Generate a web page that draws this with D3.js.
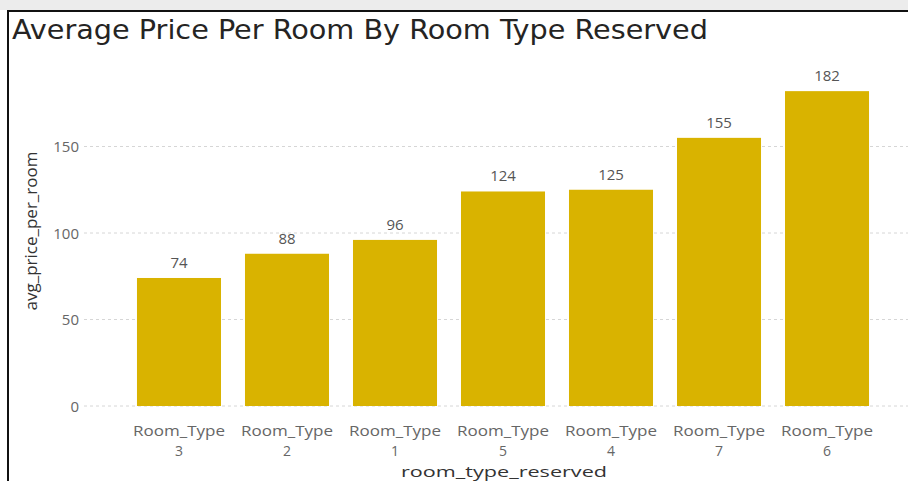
<!DOCTYPE html>
<meta charset="utf-8">
<style>
    body { margin: 0; background: #fff; }
    .grid line { stroke: #d6d6d6; stroke-dasharray: 3,3; }
    .tick text { fill: #666; font-family: "Open Sans", sans-serif; }
</style>
<svg width="908" height="481"></svg>
<script src="https://d3js.org/d3.v7.min.js"></script>
<script>

    var categories = ["Room_Type 3", "Room_Type 2", "Room_Type 1", "Room_Type 5", "Room_Type 4", "Room_Type 7", "Room_Type 6"];
    var values = [74, 88, 96, 124, 125, 155, 182];
    var yTicks = [0, 50, 100, 150];

    var svg = d3.select("svg");

    // frame
    svg.append("rect").attr("x", 0).attr("y", 0).attr("width", 908).attr("height", 10).attr("fill", "#ececec");
    svg.append("line").attr("x1", 7).attr("x2", 908).attr("y1", 11).attr("y2", 11)
        .attr("stroke", "#111").attr("stroke-width", 2);
    svg.append("line").attr("x1", 8).attr("x2", 8).attr("y1", 10).attr("y2", 481)
        .attr("stroke", "#111").attr("stroke-width", 2);

    svg.append("text")
        .attr("x", 12).attr("y", 39)
        .attr("font-family", "'DejaVu Sans Condensed', 'DejaVu Sans', sans-serif")
        .attr("font-size", 27)
        .attr("textLength", 696)
        .attr("lengthAdjust", "spacingAndGlyphs")
        .attr("fill", "#252423")
        .text("Average Price Per Room By Room Type Reserved");

    var x = d3.scaleBand()
        .domain(categories)
        .range([113, 893])
        .padding(0.222);

    var y = d3.scaleLinear()
        .domain([0, 50])
        .range([406, 319.5]);

    // gridlines
    svg.append("g")
        .attr("class", "grid")
        .selectAll("line")
        .data(yTicks)
        .enter().append("line")
        .attr("x1", 84).attr("x2", 908)
        .attr("y1", function(d) { return y(d); })
        .attr("y2", function(d) { return y(d); });

    var yAxis = svg.append("g")
        .attr("transform", "translate(79,0)")
        .call(d3.axisLeft(y).tickValues(yTicks).tickSize(0).tickPadding(0));
    yAxis.select(".domain").remove();
    yAxis.selectAll("text").attr("font-size", 15).attr("fill", "#888").attr("dy", "0.35em");

    svg.selectAll(".bar")
        .data(values)
        .enter().append("rect")
        .attr("class", "bar")
        .attr("x", function(d, i) { return x(categories[i]); })
        .attr("width", x.bandwidth())
        .attr("y", function(d) { return y(d); })
        .attr("height", function(d) { return y(0) - y(d); })
        .attr("fill", "#d9b300");

    svg.selectAll(".val")
        .data(values)
        .enter().append("text")
        .attr("class", "val")
        .attr("x", function(d, i) { return x(categories[i]) + x.bandwidth() / 2; })
        .attr("y", function(d) { return y(d) - 10; })
        .attr("text-anchor", "middle")
        .attr("font-family", "'Open Sans', sans-serif")
        .attr("font-size", 15)
        .attr("fill", "#555")
        .text(function(d) { return d; });

    var xAxis = svg.append("g")
        .attr("transform", "translate(0,406)")
        .call(d3.axisBottom(x).tickSize(0).tickFormat(""));
    xAxis.select(".domain").remove();
    xAxis.selectAll(".tick").each(function(d) {
        var parts = d.split(" ");
        var t = d3.select(this).select("text")
            .attr("y", 30).attr("dy", null)
            .attr("font-size", 14).attr("fill", "#666");
        t.append("tspan").attr("x", 0).attr("dy", 0)
            .attr("textLength", 92).attr("lengthAdjust", "spacingAndGlyphs")
            .text(parts[0]);
        t.append("tspan").attr("x", 0).attr("dy", 20).text(parts[1]);
    });

    svg.append("text")
        .attr("x", 504).attr("y", 476.5)
        .attr("text-anchor", "middle")
        .attr("font-family", "'Open Sans', sans-serif")
        .attr("font-size", 15)
        .attr("textLength", 206)
        .attr("lengthAdjust", "spacingAndGlyphs")
        .attr("fill", "#333")
        .text("room_type_reserved");

    svg.append("text")
        .attr("transform", "translate(37,231) rotate(-90)")
        .attr("text-anchor", "middle")
        .attr("font-family", "'Open Sans', sans-serif")
        .attr("font-size", 17)
        .attr("fill", "#333")
        .text("avg_price_per_room");

</script>
